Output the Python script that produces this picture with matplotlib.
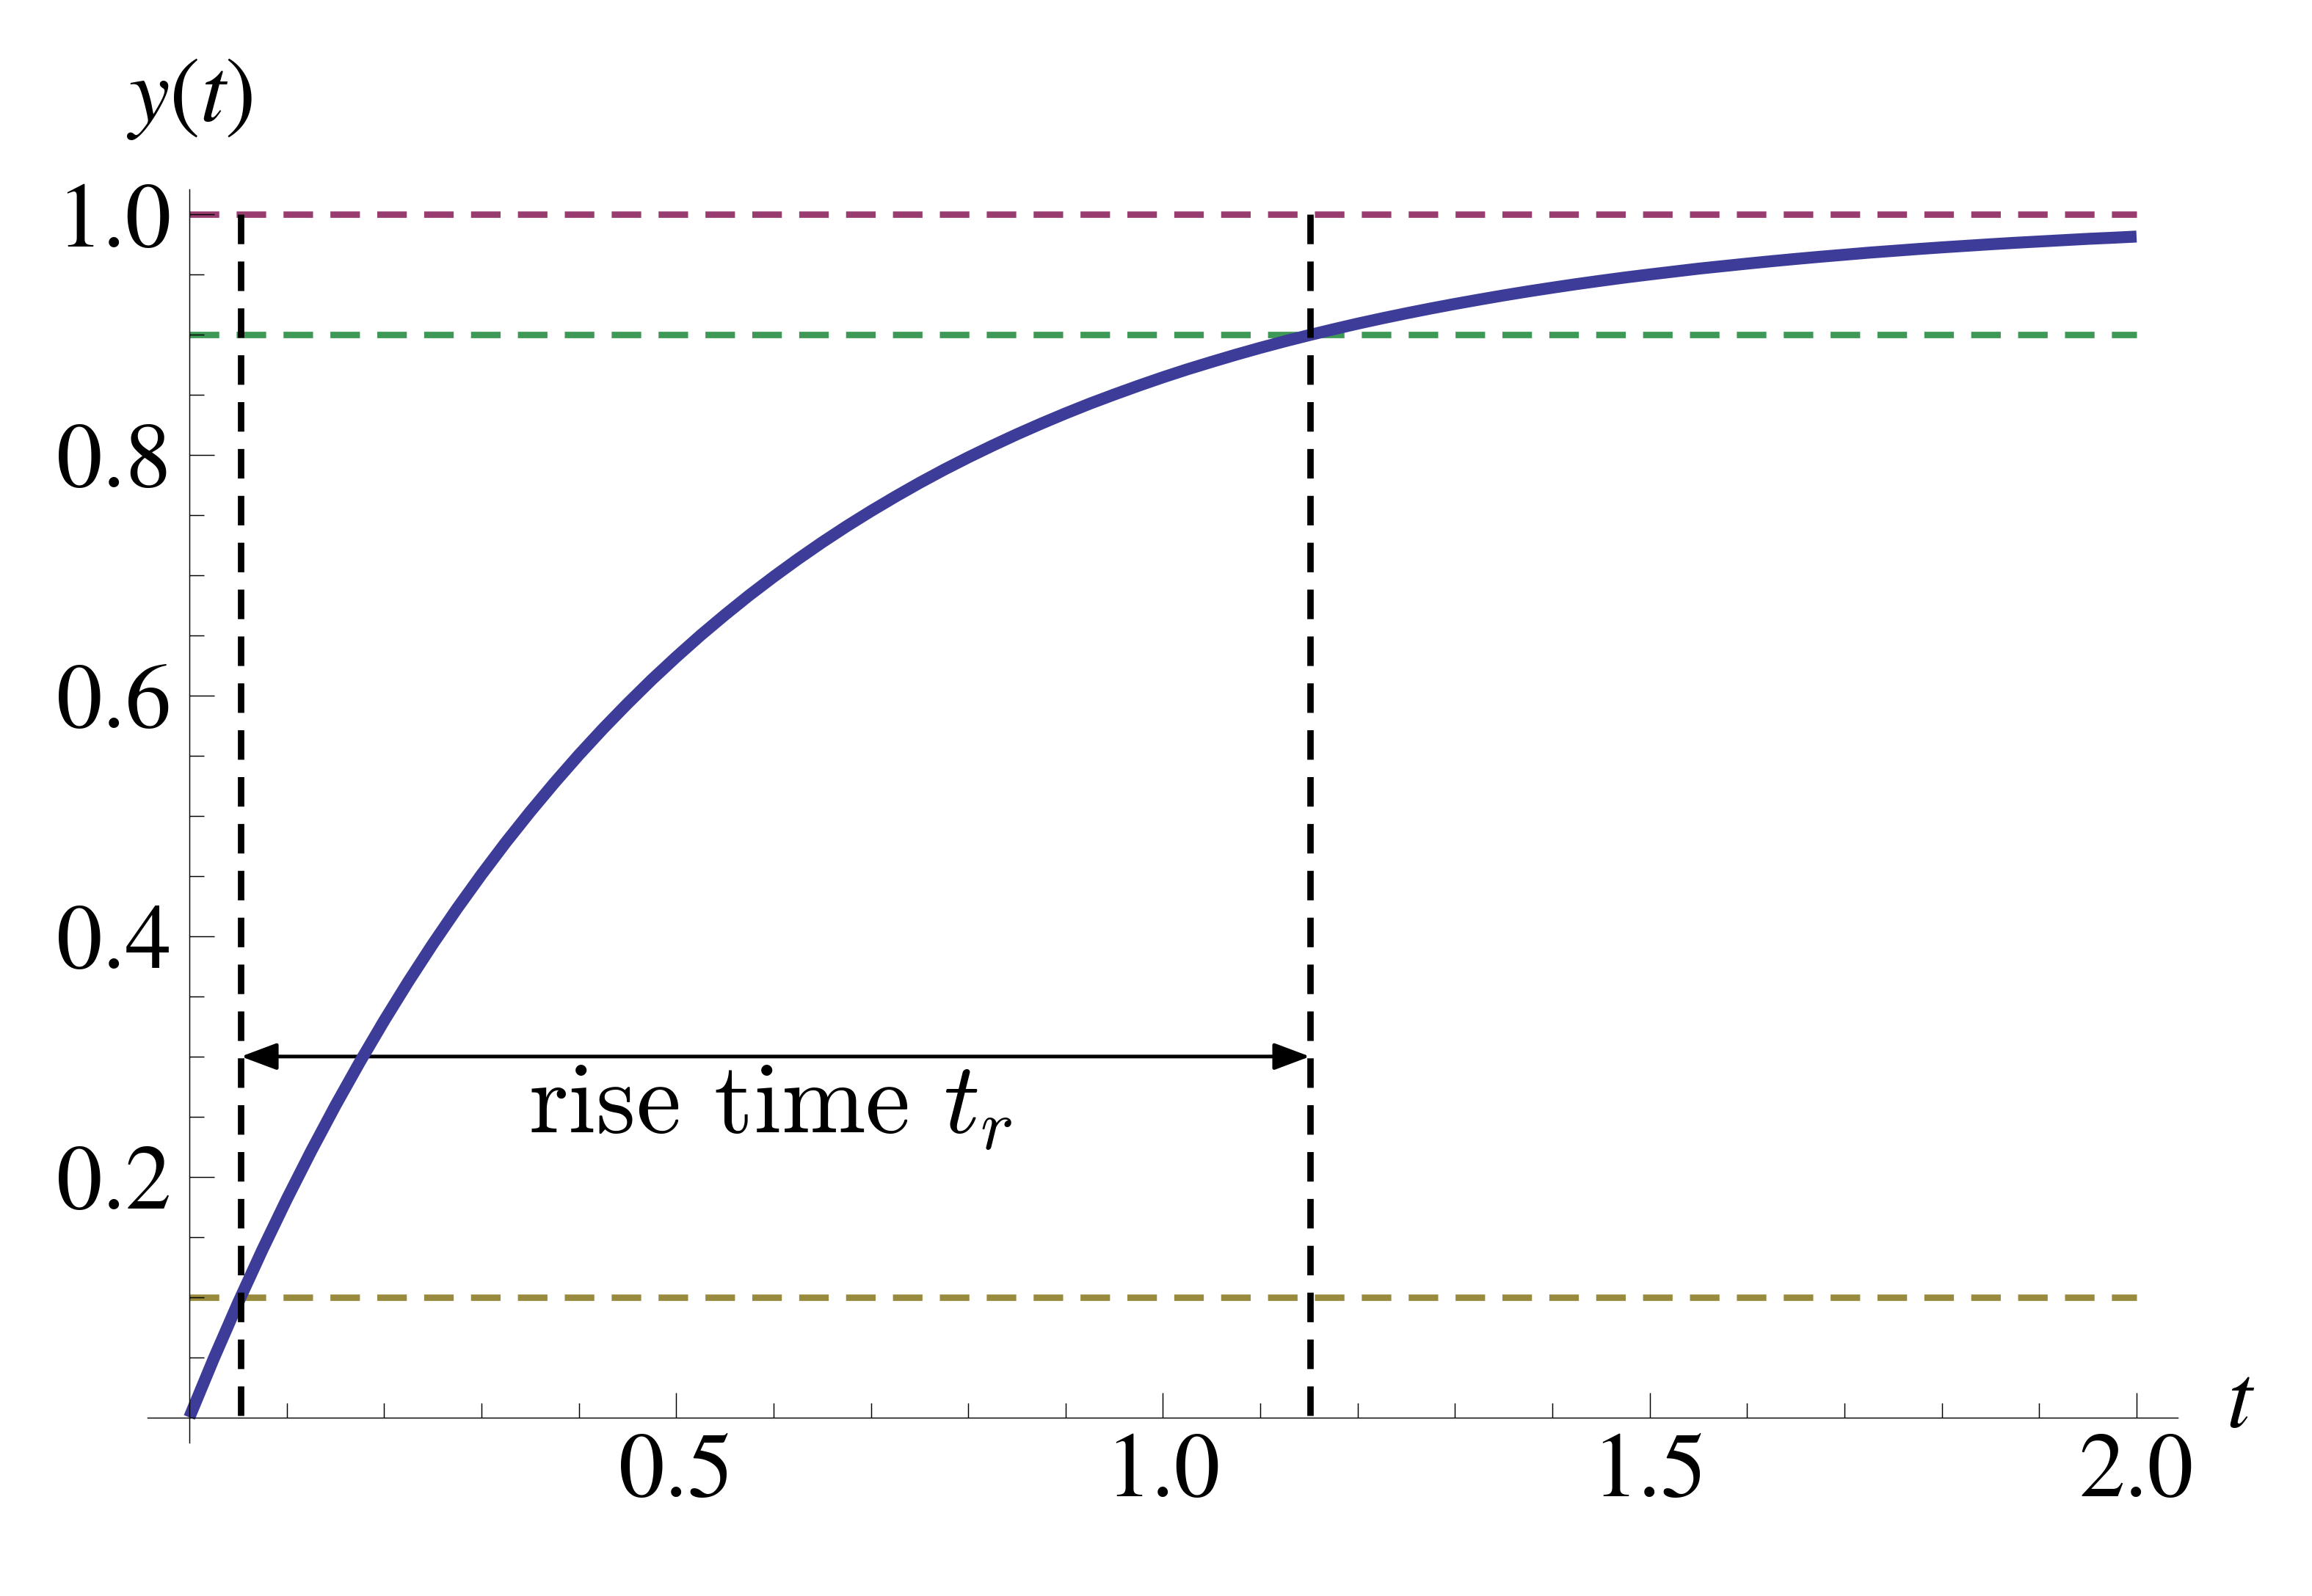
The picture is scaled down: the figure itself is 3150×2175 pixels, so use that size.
import numpy as np
import matplotlib.pyplot as plt

plt.rcParams["font.family"] = ["STIXGeneral", "DejaVu Serif"]
plt.rcParams["mathtext.fontset"] = "stix"

# step response, every 0.025
t = [0.000, 0.025, 0.050, 0.075, 0.100, 0.125, 0.150, 0.175, 0.200, 0.225,
     0.250, 0.275, 0.300, 0.325, 0.350, 0.375, 0.400, 0.425, 0.450, 0.475,
     0.500, 0.525, 0.550, 0.575, 0.600, 0.625, 0.650, 0.675, 0.700, 0.725,
     0.750, 0.775, 0.800, 0.825, 0.850, 0.875, 0.900, 0.925, 0.950, 0.975,
     1.000, 1.025, 1.050, 1.075, 1.100, 1.125, 1.150, 1.175, 1.200, 1.225,
     1.250, 1.275, 1.300, 1.325, 1.350, 1.375, 1.400, 1.425, 1.450, 1.475,
     1.500, 1.525, 1.550, 1.575, 1.600, 1.625, 1.650, 1.675, 1.700, 1.725,
     1.750, 1.775, 1.800, 1.825, 1.850, 1.875, 1.900, 1.925, 1.950, 1.975, 2.000]
y = [0.0000, 0.0488, 0.0952, 0.1393, 0.1813, 0.2212, 0.2592, 0.2953, 0.3297, 0.3624,
     0.3935, 0.4231, 0.4512, 0.4780, 0.5034, 0.5276, 0.5507, 0.5726, 0.5934, 0.6133,
     0.6321, 0.6501, 0.6671, 0.6834, 0.6988, 0.7135, 0.7275, 0.7408, 0.7534, 0.7654,
     0.7769, 0.7878, 0.7981, 0.8079, 0.8173, 0.8262, 0.8347, 0.8428, 0.8504, 0.8577,
     0.8647, 0.8713, 0.8775, 0.8835, 0.8892, 0.8946, 0.8997, 0.9046, 0.9093, 0.9137,
     0.9179, 0.9219, 0.9257, 0.9293, 0.9328, 0.9361, 0.9392, 0.9422, 0.9450, 0.9477,
     0.9502, 0.9526, 0.9550, 0.9571, 0.9592, 0.9612, 0.9631, 0.9649, 0.9666, 0.9683,
     0.9698, 0.9713, 0.9727, 0.9740, 0.9753, 0.9765, 0.9776, 0.9787, 0.9798, 0.9807, 0.9817]

levels = [1.0, 0.9, 0.1]             # final value, 90 %, 10 %
level_colors = ["#993d71", "#3d9955", "#998b3d"]
t_10 = 0.053
t_90 = 1.151
arrow_y = 0.3

x_ticks = [0.5, 1.0, 1.5, 2.0]
x_ticklabels = ["0.5", "1.0", "1.5", "2.0"]
y_ticks = [0.2, 0.4, 0.6, 0.8, 1.0]
y_ticklabels = ["0.2", "0.4", "0.6", "0.8", "1.0"]

fig = plt.figure(figsize=(10.5, 7.25), dpi=300)
ax = fig.add_axes([0.0638, 0.0961, 0.878, 0.7853])
ax.set_xlim(-0.043, 2.042)
ax.set_ylim(-0.021, 1.021)

dash = (0, (4.6, 2.7))
for lvl, c in zip(levels, level_colors):
    ax.plot([0, 2.0], [lvl, lvl], color=c, lw=2.1, ls=dash, zorder=1)

ax.annotate("", xy=(t_90, arrow_y), xytext=(t_10, arrow_y),
            arrowprops=dict(arrowstyle="<|-|>,head_length=0.4,head_width=0.15",
                            mutation_scale=25, lw=1.2, color="black",
                            shrinkA=0, shrinkB=0), zorder=1.5)

ax.plot(t, y, color="#3d3d99", lw=3.9, solid_capstyle="butt",
        solid_joinstyle="round", zorder=2)

for tv in [t_10, t_90]:
    ax.plot([tv, tv], [1.0, 0.0], color="black", lw=2.1, ls=dash, zorder=3)

ax.text(0.597, 0.237, "rise time $t_r$", fontsize=33, family="cmr10",
        math_fontfamily="cm", ha="center", va="baseline")

# axes through the origin, Mathematica style
for s in ["top", "right"]:
    ax.spines[s].set_visible(False)
ax.spines["left"].set_position(("data", 0))
ax.spines["bottom"].set_position(("data", 0))
for s in ["left", "bottom"]:
    ax.spines[s].set_linewidth(0.35)

ax.set_xticks(x_ticks)
ax.set_xticklabels(x_ticklabels)
ax.set_xticks([v / 10 for v in range(1, 20) if v % 5 != 0], minor=True)
ax.set_yticks(y_ticks)
ax.set_yticklabels(y_ticklabels)
ax.set_yticks([v / 20 for v in range(1, 20) if v % 4 != 0], minor=True)
ax.tick_params(which="both", direction="in", width=0.35, labelsize=30)
ax.tick_params(which="major", length=8.2)
ax.tick_params(which="minor", length=4.8)
ax.tick_params(axis="x", pad=5)
ax.tick_params(axis="y", pad=6)

ax.text(0, 1.096, "$y(t)$", fontsize=30, ha="center", va="center", clip_on=False)
ax.text(2.107, 0.01, "$t$", fontsize=30, ha="center", va="center", clip_on=False)

plt.savefig("out.png", dpi=300)
